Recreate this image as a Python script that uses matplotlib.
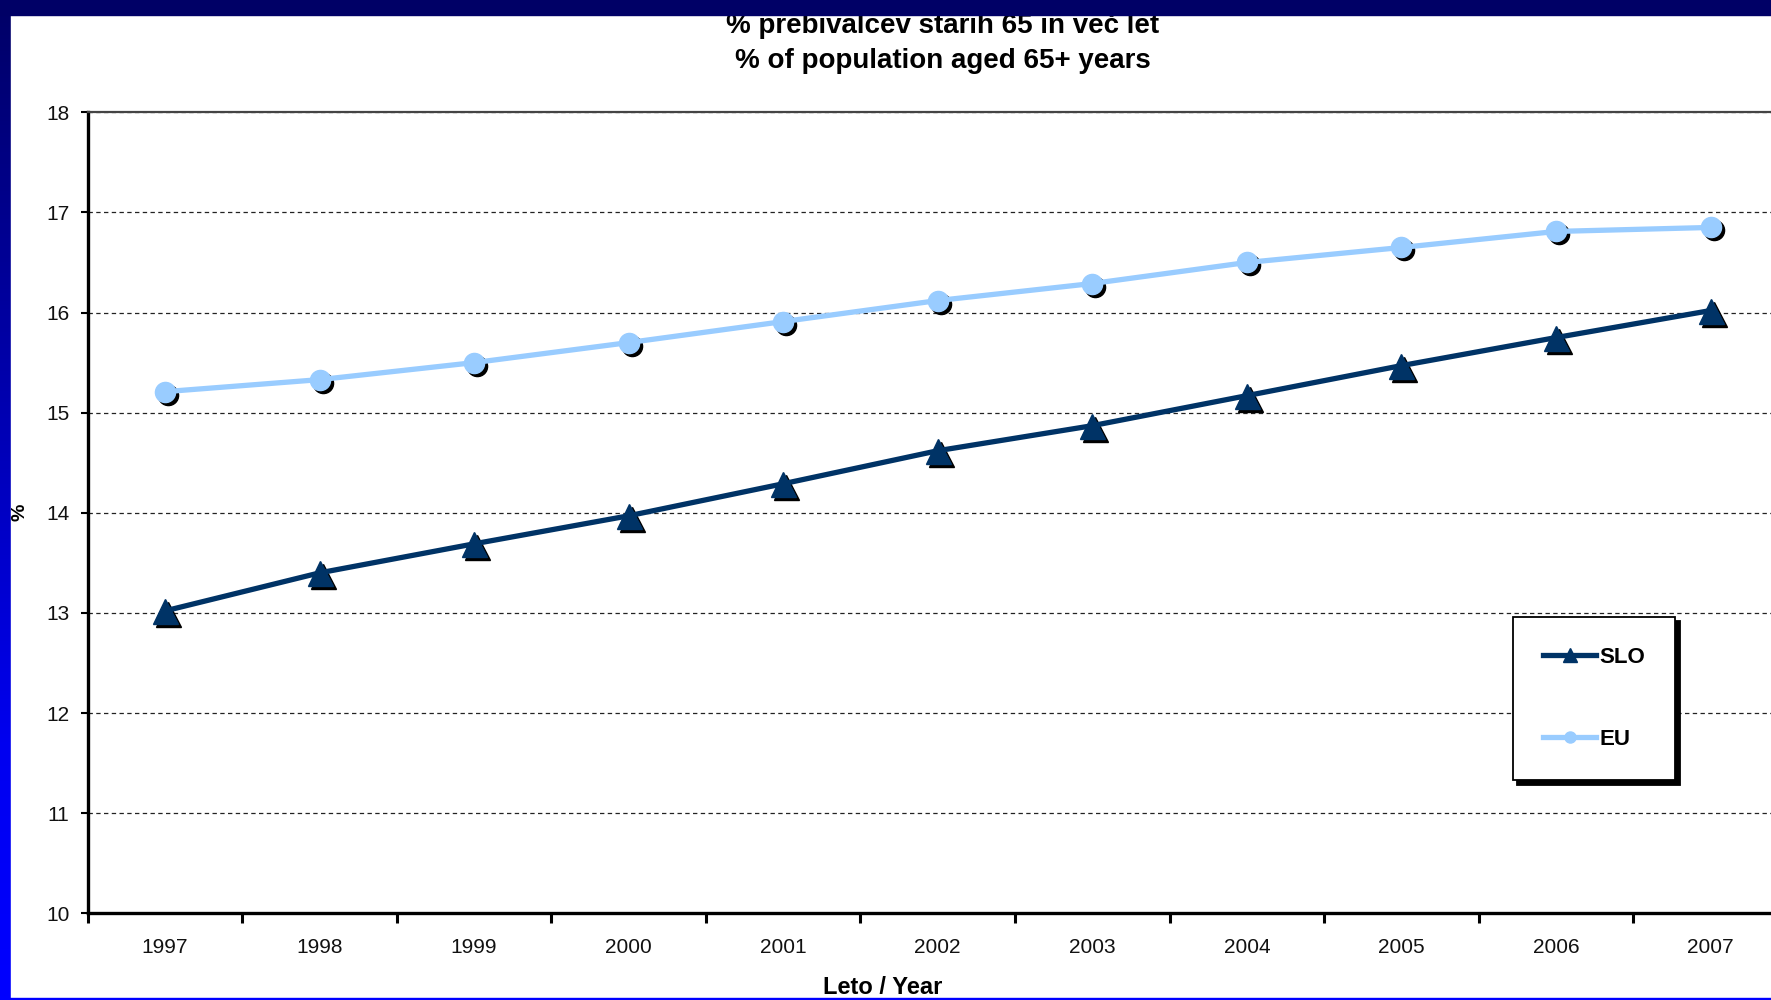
import numpy as np
import matplotlib
matplotlib.use('Agg')
import matplotlib.pyplot as plt
from matplotlib.patches import Rectangle
from matplotlib.transforms import offset_copy
from matplotlib.colors import LinearSegmentedColormap

plt.rcParams['font.family'] = ['Liberation Sans', 'DejaVu Sans']

years = ['1997', '1998', '1999', '2000', '2001', '2002', '2003', '2004', '2005', '2006', '2007']
slo = [13.02, 13.40, 13.69, 13.97, 14.29, 14.62, 14.87, 15.17, 15.47, 15.75, 16.02]
eu = [15.21, 15.33, 15.50, 15.70, 15.91, 16.12, 16.29, 16.50, 16.65, 16.81, 16.85]

navy = '#000066'
slo_col = '#003366'
eu_col = '#99CCFF'

fig = plt.figure(figsize=(17.71, 10), dpi=100)

# blue slide frame behind the chart
bg = fig.add_axes([0, 0, 1, 1], zorder=-10)
bg.axis('off')
cmap = LinearSegmentedColormap.from_list('frame', [(0, navy), (0.75, '#0000F0'), (1, '#0000FF')])
grad = np.linspace(0, 1, 256).reshape(-1, 1)
bg.imshow(grad, cmap=cmap, aspect='auto', extent=[0, 1, 0, 1], origin='upper')
bg.add_patch(Rectangle((11 / 1771, 0.002), 1, 0.983, color='white', transform=bg.transAxes))
bg.set_xlim(0, 1)
bg.set_ylim(0, 1)

ax = fig.add_axes([0.0495, 0.0867, 0.9600, 0.801])
x = np.arange(len(years))

sh = offset_copy(ax.transData, fig=fig, x=3, y=-3, units='dots')

ax.plot(x, slo, ls='none', marker='^', ms=18, color='black', transform=sh, zorder=2)
ax.plot(x, slo, color=slo_col, lw=3.8, marker='^', ms=18, mec=slo_col, label='SLO', zorder=3)
ax.plot(x, eu, ls='none', marker='o', ms=14.5, color='black', transform=sh, zorder=2)
ax.plot(x, eu, color=eu_col, lw=3.8, marker='o', ms=14.5, mec=eu_col, label='EU', zorder=3)

ax.set_xlim(-0.5, 10.5)
ax.set_ylim(10, 18)
ax.set_xticks(x)
ax.set_xticklabels(years)
ax.set_xticks(np.arange(-0.5, 11), minor=True)
ax.tick_params(axis='x', which='major', length=0, pad=17.5, labelsize=15, labelcolor='#111111')
ax.tick_params(axis='x', which='minor', length=7, width=2.2, direction='out')
ax.set_yticks(range(10, 19))
ax.tick_params(axis='y', length=5, width=1.5, pad=8, labelsize=15, labelcolor='#111111')

ax.set_axisbelow(True)
ax.yaxis.grid(True, linestyle=(0, (3.5, 2.7)), color='#222222', lw=0.9)
for s in ['left', 'bottom']:
    ax.spines[s].set_linewidth(2.4)
    ax.spines[s].set_color('black')
ax.spines['top'].set_color('#444444')
ax.spines['top'].set_linewidth(1.6)
ax.spines['right'].set_visible(False)

leg = ax.legend(loc='upper left', bbox_to_anchor=(1513 / 1771, 1 - 617 / 1000),
                bbox_transform=fig.transFigure, prop={'weight': 'bold', 'size': 16},
                markerscale=0.55, handlelength=2.4, handletextpad=0.15, labelspacing=2.75,
                borderpad=1.35, borderaxespad=0, fancybox=False, framealpha=1,
                shadow={'color': 'black', 'alpha': 1, 'ox': 3.2, 'oy': -3.2})
leg.get_frame().set_edgecolor('black')
leg.get_frame().set_linewidth(1.3)

fig.text(943 / 1771, 1 - 33 / 1000, '% prebivalcev starih 65 in več let', ha='center', va='baseline',
         fontsize=20, fontweight='bold')
fig.text(943 / 1771, 1 - 68 / 1000, '% of population aged 65+ years', ha='center', va='baseline',
         fontsize=20, fontweight='bold')
fig.text(883 / 1771, 1 - 976 / 1000, 'Leto / Year', ha='center', va='top', fontsize=17, fontweight='bold')
fig.text(20 / 1771, 1 - 512 / 1000, '%', rotation=90, ha='center', va='center', fontsize=14, fontweight='bold')

# frame edges drawn over the text
fig.patches.append(Rectangle((0, 0.985), 1, 0.015, transform=fig.transFigure, color=navy, zorder=20))
fig.patches.append(Rectangle((0, 0), 1, 0.002, transform=fig.transFigure, color='#0000FF', zorder=20))

fig.savefig('out.png', dpi=100)
